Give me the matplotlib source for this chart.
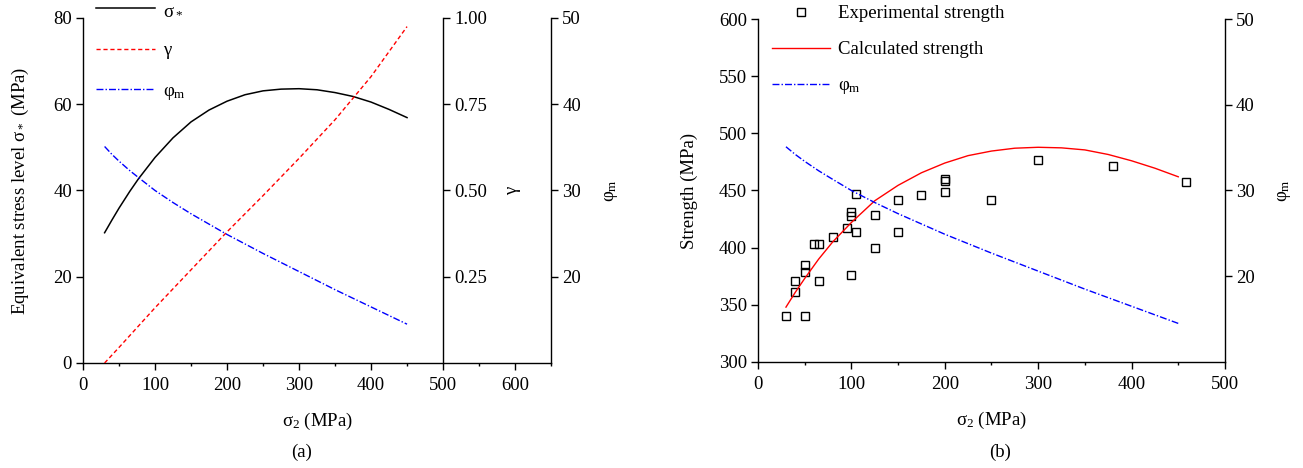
import matplotlib
matplotlib.use("Agg")
import matplotlib.pyplot as plt
from matplotlib.ticker import MultipleLocator, FormatStrFormatter

plt.rcParams['font.family'] = ['Liberation Serif', 'DejaVu Serif']
plt.rcParams['mathtext.fontset'] = 'custom'
plt.rcParams['mathtext.rm'] = 'Liberation Serif'
plt.rcParams['mathtext.it'] = 'Liberation Serif:italic'
plt.rcParams['font.size'] = 13.5
plt.rcParams['axes.linewidth'] = 1.0

# (a) equivalent stress level, gamma and phi_m against sigma_2
sigma2_a = [30, 40, 50, 65, 77, 100, 125, 150, 175, 200, 225, 250, 275, 300, 325, 350, 375, 400, 425, 450]
sigma_eq = [30.2, 33.1, 35.9, 39.8, 42.7, 47.65, 52.2, 55.9, 58.65, 60.7, 62.2, 63.1, 63.5, 63.6,
            63.35, 62.7, 61.8, 60.5, 58.8, 56.9]
gamma_x = [30, 50, 100, 150, 200, 250, 300, 350, 400, 450]
gamma = [0.0, 0.045, 0.16, 0.27, 0.38, 0.485, 0.593, 0.705, 0.83, 0.975]
phi_x = [30, 40, 50, 65, 77, 100, 125, 150, 200, 250, 300, 350, 400, 450]
phi_m = [35.1, 34.2, 33.4, 32.3, 31.5, 30.0, 28.6, 27.3, 24.9, 22.7, 20.6, 18.5, 16.5, 14.5]

# (b) experimental / calculated strength
exp_s2 = [30, 50, 40, 40, 50, 50, 65, 60, 65, 80, 95, 105, 100, 100, 100,
          105, 125, 125, 150, 150, 175, 200, 200, 200, 250, 300, 380, 458]
exp_str = [340, 340, 361, 371, 379, 385, 371, 403, 403, 409, 417, 414, 376, 431, 428,
           447, 429, 400, 442, 414, 446, 460, 458, 449, 442, 477, 471, 457]
calc_s2 = [30, 40, 50, 65, 80, 100, 125, 150, 175, 200, 225, 250, 275, 300, 325, 350, 375, 400, 425, 450]
calc_str = [348, 361, 373, 390, 405, 422, 441, 454.5, 465.5, 474, 480.5, 484.5, 487, 487.8, 487.3,
            485.5, 481.5, 476, 469.5, 462]

fig = plt.figure(figsize=(13.03, 4.68), dpi=100)


def style_ticks(a):
    a.tick_params(which='major', direction='out', length=5, width=1, pad=3)
    a.tick_params(which='minor', direction='out', length=2.5, width=1)


# ---------- panel (a) ----------
ax1 = fig.add_axes([0.0637, 0.2244, 0.3592, 0.7372])
l1, = ax1.plot(sigma2_a, sigma_eq, color='black', lw=1.1, label='σ$_*$')
ax1.set_xlim(0, 650)
ax1.set_ylim(0, 80)
ax1.xaxis.set_major_locator(MultipleLocator(100))
ax1.xaxis.set_minor_locator(MultipleLocator(50))
ax1.yaxis.set_major_locator(MultipleLocator(20))
ax1.spines['top'].set_visible(False)
ax1.spines['right'].set_visible(False)
ax1.tick_params(right=False, top=False)
style_ticks(ax1)
ax1.tick_params(axis='x', pad=5)
ax1.set_xlabel('σ$_\\mathrm{2}$ (MPa)', labelpad=12)
ax1.set_ylabel('Equivalent stress level σ$_*$ (MPa)', labelpad=16)

ax1g = ax1.twinx()
l2, = ax1g.plot(gamma_x, gamma, color='red', lw=1.0, dashes=(3, 2), label='γ')
ax1g.set_ylim(0, 1)
ax1g.set_yticks([0.25, 0.5, 0.75, 1.0])
ax1g.yaxis.set_major_formatter(FormatStrFormatter('%.2f'))
for s in ['left', 'top', 'bottom']:
    ax1g.spines[s].set_visible(False)
ax1g.spines['right'].set_position(('data', 500))
style_ticks(ax1g)
ax1g.set_ylabel('γ', labelpad=12)

ax1p = ax1.twinx()
l3, = ax1p.plot(phi_x, phi_m, color='blue', lw=1.0, dashes=(5, 1.5, 1, 1.5), label='φ$_\\mathrm{m}$')
ax1p.set_ylim(10, 50)
ax1p.set_yticks([20, 30, 40, 50])
for s in ['left', 'top', 'bottom']:
    ax1p.spines[s].set_visible(False)
style_ticks(ax1p)
ax1p.set_ylabel('φ$_\\mathrm{m}$', labelpad=16)

ax1p.legend(handles=[l1, l2, l3], loc='upper left', bbox_to_anchor=(0.028, 1.047),
            frameon=False, borderpad=0, borderaxespad=0, handlelength=3.15,
            handletextpad=0.43, labelspacing=1.25)

# ---------- panel (b) ----------
ax2 = fig.add_axes([0.5817, 0.2265, 0.3584, 0.7329])
h1, = ax2.plot(exp_s2, exp_str, ls='none', marker='s', ms=6, mfc='none', mec='black',
               mew=1.0, label='Experimental strength')
h2, = ax2.plot(calc_s2, calc_str, color='red', lw=1.0, label='Calculated strength')
ax2.set_xlim(0, 500)
ax2.set_ylim(300, 600)
ax2.xaxis.set_major_locator(MultipleLocator(100))
ax2.xaxis.set_minor_locator(MultipleLocator(50))
ax2.yaxis.set_major_locator(MultipleLocator(50))
ax2.spines['top'].set_visible(False)
ax2.spines['right'].set_visible(False)
style_ticks(ax2)
ax2.tick_params(axis='x', pad=5)
ax2.set_xlabel('σ$_\\mathrm{2}$ (MPa)', labelpad=12)
ax2.set_ylabel('Strength (MPa)', labelpad=15)

ax2p = ax2.twinx()
h3, = ax2p.plot(phi_x, phi_m, color='blue', lw=1.0, dashes=(5, 1.5, 1, 1.5), label='φ$_\\mathrm{m}$')
ax2p.set_ylim(10, 50)
ax2p.set_yticks([20, 30, 40, 50])
for s in ['left', 'top', 'bottom']:
    ax2p.spines[s].set_visible(False)
style_ticks(ax2p)
ax2p.set_ylabel('φ$_\\mathrm{m}$', labelpad=15)

ax2p.legend(handles=[h1, h2, h3], loc='upper left', bbox_to_anchor=(0.03, 1.04),
            frameon=False, borderpad=0, borderaxespad=0, handlelength=3.1,
            handletextpad=0.43, labelspacing=1.0)

fig.text(302 / 1303, 1 - 452 / 468, '(a)', ha='center', va='center')
fig.text(1000 / 1303, 1 - 452 / 468, '(b)', ha='center', va='center')

fig.savefig('out.png', dpi=100)
